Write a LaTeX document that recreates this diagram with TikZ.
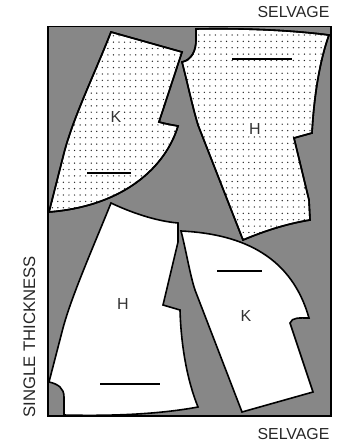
\documentclass[tikz,border=0pt]{standalone}
\usepackage{fontspec}
\setmainfont{Liberation Sans}
\definecolor{cloth}{gray}{0.53}

% pattern pieces
\def\kdotted{(111,32) -- (182,52) -- (159,122) to[out=-15,in=170] (178,126)
	.. controls (166,166) and (125,206) .. (49,212)
	-- (63,157) .. controls (72,120) and (92,80) .. (111,32) -- cycle}
\def\hdotted{(196,29) .. controls (240,28) and (290,30) .. (329,35)
	.. controls (320,60) and (314,95) .. (312,133) -- (294,138) -- (309,200) -- (310,220)
	.. controls (285,224) and (262,232) .. (243,240)
	-- (198,125) .. controls (192,105) and (188,85) .. (182,62)
	.. controls (192,60) and (196,50) .. (196,40) -- cycle}
\def\hplain{(111,203) .. controls (130,212) and (155,221) .. (178,223) -- (178,242)
	-- (163,305) -- (180,310) .. controls (181,345) and (187,380) .. (198,407)
	.. controls (155,415) and (105,416) .. (64,415) -- (64,397)
	.. controls (64,388) and (58,384) .. (49,382)
	-- (63,328) .. controls (72,295) and (92,250) .. (111,203) -- cycle}
\def\kplain{(181,231) .. controls (245,234) and (292,258) .. (309,318)
	.. controls (300,318) and (292,317) .. (290,323) -- (313,392) -- (242,412)
	-- (195,290) .. controls (190,275) and (186,250) .. (181,231) -- cycle}

\tikzset{
	piece/.style={draw=black, line width=1.6pt, fill=white, line join=miter},
	grainline/.style={draw=black, line width=1.6pt},
	tag/.style={font=\fontsize{16}{16}\selectfont, text=black!80, inner sep=0pt},
	edgetext/.style={font=\fontsize{15.9}{16}\selectfont, text=black!85, inner sep=0pt}
}

\begin{document}
\begin{tikzpicture}[x=1pt,y=-1pt]
\useasboundingbox (0,0) rectangle (348,448);

\fill[cloth] (48,26.5) rectangle (331,416);

% dotted pieces
\path[piece] \kdotted;
\path[piece] \hdotted;
\begin{scope}
	\clip \kdotted;
	\foreach \row in {0,...,30}
		\foreach \col in {0,...,25}
			\fill[black!85] (52.3+\col*5.56,29.4+\row*6.37) circle (0.72);
\end{scope}
\begin{scope}
	\clip \hdotted;
	\foreach \row in {0,...,34}
		\foreach \col in {0,...,27}
			\fill[black!85] (182.1+\col*5.56,35+\row*6.37) circle (0.72);
\end{scope}
\path[piece, fill=none] \kdotted;
\path[piece, fill=none] \hdotted;

% plain pieces
\path[piece] \hplain;
\path[piece] \kplain;

\draw[black, line width=1.4pt] (48,26.5) rectangle (331,416);

% grain lines
\draw[grainline] (87,173) -- (131,173);
\draw[grainline] (232,59) -- (292,59);
\draw[grainline] (100,384) -- (160,384);
\draw[grainline] (217,271) -- (262,271);

\node[tag, fill=white, inner sep=1.5pt] (kdot) at (116,117) {K};
\node[tag, fill=white, inner sep=1.5pt] (hdot) at (255,129) {H};
\node[tag] (hwhite) at (123,304) {H};
\node[tag] (kwhite) at (246,316) {K};

\node[edgetext] (seltop) at (293.5,11.7) {SELVAGE};
\node[edgetext] (selbot) at (293.5,434) {SELVAGE};
\node[edgetext, rotate=90, font=\fontsize{16.7}{17}\selectfont] (thick) at (29.5,337) {SINGLE THICKNESS};
\end{tikzpicture}
\end{document}
